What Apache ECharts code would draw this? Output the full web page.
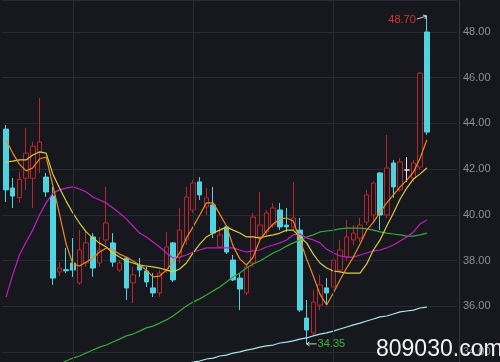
<!DOCTYPE html>
<html>
<head>
<meta charset="utf-8">
<script src="https://cdn.jsdelivr.net/npm/echarts@6/dist/echarts.min.js"></script>
<style>
html,body{margin:0;padding:0;background:#16181d;}
#c{width:500px;height:362px;}
</style>
</head>
<body>
<div id="c"></div>
<script>
// 64 trading days + 4 empty slots on the right
const categories = Array.from({length: 68}, (_, i) => String(i + 1));

const opens = [43.75, 41.17, 40.75, 41.60, 41.60, 42.75, 41.65, 40.82, 37.50, 37.60,
  37.89, 37.02, 37.89, 39.03, 37.89, 38.90, 38.77, 37.58, 38.11, 37.02,
  37.80, 37.54, 36.80, 36.58, 37.58, 38.77, 38.15, 38.90, 40.21, 41.44,
  40.34, 40.43, 38.59, 39.47, 38.02, 37.23, 36.58, 37.89, 39.03, 39.25,
  39.55, 40.21, 39.55, 39.47, 39.33, 35.48, 34.83, 36.05, 36.80, 36.84,
  37.58, 38.15, 38.90, 38.98, 39.68, 39.99, 41.83, 39.99, 42.27, 41.09,
  41.96, 41.60, 42.09, 48.00];
const closes = [41.09, 40.82, 41.55, 42.70, 43.00, 43.19, 41.00, 37.23, 37.67, 37.55,
  37.58, 38.46, 38.77, 37.67, 38.46, 39.64, 37.93, 37.89, 36.80, 37.37,
  37.58, 37.06, 36.58, 37.45, 38.59, 37.15, 39.33, 40.78, 41.39, 40.87,
  40.74, 39.20, 39.12, 38.37, 37.15, 36.75, 37.72, 39.90, 39.55, 40.08,
  40.30, 39.47, 39.47, 39.86, 35.83, 34.96, 36.18, 36.93, 36.58, 38.02,
  38.46, 39.03, 39.20, 39.55, 40.87, 41.39, 39.99, 42.05, 41.22, 42.31,
  41.96, 42.27, 46.20, 43.62];
const lows = [40.56, 40.30, 40.52, 41.09, 40.30, 41.83, 40.78, 36.93, 37.32, 37.45,
  37.28, 36.93, 37.72, 37.28, 37.72, 38.68, 37.72, 37.50, 36.27, 36.14,
  37.28, 36.84, 36.40, 36.40, 37.45, 37.06, 37.89, 38.68, 40.08, 40.65,
  39.99, 38.98, 38.55, 38.28, 37.10, 35.83, 36.49, 37.72, 38.90, 39.12,
  39.42, 39.33, 39.25, 39.33, 35.75, 34.35, 34.74, 35.83, 36.05, 36.71,
  37.45, 38.02, 38.68, 38.81, 39.55, 39.64, 39.33, 39.86, 40.74, 41.00,
  41.44, 41.44, 41.96, 43.50];
const highs = [43.93, 41.61, 41.90, 43.80, 43.20, 45.11, 41.83, 41.22, 37.93, 38.55,
  38.98, 39.33, 39.25, 39.20, 39.03, 41.22, 39.20, 38.02, 38.15, 37.72,
  38.11, 37.72, 37.45, 37.58, 39.25, 38.81, 40.30, 41.22, 41.52, 41.65,
  41.17, 41.22, 39.47, 39.55, 38.24, 37.45, 37.89, 40.08, 41.00, 40.21,
  40.52, 40.52, 40.30, 41.44, 39.86, 36.27, 36.71, 37.37, 37.23, 38.15,
  38.90, 39.77, 39.55, 39.86, 41.09, 41.45, 41.87, 43.49, 42.40, 42.49,
  42.53, 42.40, 46.25, 48.70];

const ma5 = [43.27, 42.70, 42.22, 41.92, 42.05, 42.44, 42.53, 41.30, 40.03, 38.72,
  37.85, 37.76, 37.93, 38.11, 38.37, 38.55, 38.46, 38.28, 38.15, 37.98,
  37.80, 37.58, 37.28, 37.32, 37.58, 37.93, 38.33, 38.98, 39.47, 39.99,
  40.52, 40.52, 40.03, 39.51, 38.63, 38.07, 37.80, 38.15, 38.90, 39.29,
  39.60, 39.82, 39.86, 39.73, 38.90, 38.07, 37.32, 36.53, 36.05, 36.58,
  37.15, 37.67, 38.15, 38.72, 39.33, 39.68, 40.12, 40.52, 40.87, 41.22,
  41.52, 41.87, 42.49, 43.27];
const ma10 = [42.31, 42.35, 42.40, 42.40, 42.62, 42.75, 42.70, 41.79, 41.17, 40.60,
  40.08, 39.64, 39.25, 38.98, 38.76, 38.59, 38.33, 38.15, 37.98, 37.89,
  37.80, 37.76, 37.72, 37.67, 37.58, 37.50, 37.63, 37.89, 38.33, 38.72,
  39.03, 39.20, 39.33, 39.47, 39.33, 39.20, 39.03, 39.03, 38.98, 39.07,
  39.12, 39.20, 39.33, 39.33, 39.03, 38.77, 38.28, 37.89, 37.67, 37.54,
  37.50, 37.45, 37.45, 37.45, 37.85, 38.46, 38.90, 39.51, 40.08, 40.69,
  41.17, 41.57, 41.79, 42.05];
const ma20 = [36.40, 37.37, 38.24, 38.81, 39.33, 39.99, 40.52, 40.95, 41.09, 41.17,
  41.22, 41.13, 41.00, 40.78, 40.65, 40.52, 40.30, 40.08, 39.82, 39.51,
  39.20, 39.03, 38.81, 38.59, 38.33, 38.11, 38.15, 38.24, 38.37, 38.46,
  38.55, 38.55, 38.55, 38.55, 38.55, 38.46, 38.37, 38.42, 38.46, 38.59,
  38.68, 38.77, 38.90, 39.12, 39.16, 38.98, 38.90, 38.77, 38.50, 38.33,
  38.20, 38.15, 38.15, 38.24, 38.33, 38.42, 38.46, 38.55, 38.68, 38.85,
  39.03, 39.25, 39.60, 39.77];
const ma60 = [null, null, null, null, null, null, null, null, 33.47, 33.60,
  33.73, 33.82, 33.95, 34.08, 34.21, 34.30, 34.43, 34.56, 34.70, 34.78,
  34.91, 35.05, 35.13, 35.26, 35.40, 35.57, 35.79, 36.01, 36.18, 36.32,
  36.49, 36.67, 36.84, 37.06, 37.28, 37.45, 37.67, 37.85, 37.98, 38.15,
  38.33, 38.46, 38.63, 38.77, 38.90, 39.03, 39.12, 39.25, 39.29, 39.33,
  39.38, 39.42, 39.42, 39.42, 39.38, 39.33, 39.25, 39.20, 39.16, 39.12,
  39.07, 39.07, 39.12, 39.20];
const ma120 = [null, null, null, null, null, null, null, null, null, null,
  null, null, null, null, null, null, null, null, null, null,
  null, null, null, null, null, null, null, 33.47, 33.56, 33.60,
  33.69, 33.73, 33.82, 33.86, 33.95, 34.00, 34.08, 34.13, 34.21, 34.26,
  34.30, 34.39, 34.43, 34.48, 34.56, 34.61, 34.70, 34.78, 34.83, 34.91,
  35.00, 35.09, 35.18, 35.26, 35.35, 35.44, 35.53, 35.57, 35.66, 35.75,
  35.79, 35.83, 35.92, 35.96];

const monthLines = [10, 28, 49];

const candleData = opens.map((o, i) => [o, closes[i], lows[i], highs[i]]);

const chart = echarts.init(document.getElementById('c'), null, {renderer: 'canvas'});

function maSeries(name, data, color) {
  return {
    name, type: 'line', data, showSymbol: false, symbol: 'none',
    lineStyle: {color, width: 1.2}, z: 4, silent: true, connectNulls: false
  };
}

chart.setOption({
  backgroundColor: '#16181d',
  animation: false,
  grid: {left: 2.7, top: 0, width: 454.2, height: 397.6, containLabel: false, outerBoundsMode: 'none'},
  xAxis: {
    type: 'category', data: categories, boundaryGap: true,
    axisLine: {show: false}, axisTick: {show: false}, axisLabel: {show: false},
    splitLine: {show: false}
  },
  yAxis: {
    type: 'value', position: 'right', min: 32, max: 49.4, interval: 2, offset: 2.1,
    axisLine: {show: true, lineStyle: {color: '#34373e', width: 1}},
    axisTick: {show: false},
    axisLabel: {
      color: '#8d9198', fontSize: 11, margin: 4, showMaxLabel: false,
      fontFamily: 'Liberation Sans, Arial, sans-serif',
      formatter: v => v.toFixed(2)
    },
    splitLine: {show: true, lineStyle: {color: '#282b31', width: 1}}
  },
  series: [
    {
      type: 'line', data: [], z: 1, silent: true,
      markLine: {
        silent: true, symbol: ['none', 'none'], label: {show: false},
        lineStyle: {color: '#282b31', type: 'solid', width: 1},
        data: monthLines.map(i => ({xAxis: categories[i]}))
      }
    },
    {
      type: 'candlestick', data: candleData, barWidth: 5, z: 3,
      itemStyle: {
        color: '#16181d', borderColor: '#b8262c',
        color0: '#4fd3de', borderColor0: '#4fd3de',
        borderColorDoji: '#e6e6e6', borderWidth: 1
      }
    },
    maSeries('MA120', ma120, '#a9e6ee'),
    maSeries('MA60', ma60, '#38a83c'),
    maSeries('MA20', ma20, '#c21fc0'),
    maSeries('MA10', ma10, '#ddcb3e'),
    maSeries('MA5', ma5, '#f08a1e')
  ]
});

function annotate() {
  let hiIdx = 0, loIdx = 0;
  highs.forEach((v, i) => { if (v > highs[hiIdx]) hiIdx = i; });
  lows.forEach((v, i) => { if (v < lows[loIdx]) loIdx = i; });
  const hi = chart.convertToPixel({xAxisIndex: 0, yAxisIndex: 0}, [categories[hiIdx], highs[hiIdx]]);
  const lo = chart.convertToPixel({xAxisIndex: 0, yAxisIndex: 0}, [categories[loIdx], lows[loIdx]]);
  chart.setOption({
    graphic: [
      {type: 'line', silent: true, z: 10,
        shape: {x1: hi[0] - 10, y1: hi[1] + 3, x2: hi[0], y2: hi[1]},
        style: {stroke: '#cfcfcf', lineWidth: 1}},
      {type: 'polyline', silent: true, z: 10,
        shape: {points: [[hi[0] - 4, hi[1] - 1], [hi[0], hi[1]], [hi[0] - 2, hi[1] + 3]]},
        style: {stroke: '#cfcfcf', lineWidth: 1, fill: null}},
      {type: 'text', silent: true, z: 10, x: hi[0] - 11, y: hi[1] + 4,
        style: {text: highs[hiIdx].toFixed(2), fill: '#d23434', fontSize: 11,
          fontFamily: 'Liberation Sans, Arial, sans-serif', align: 'right', verticalAlign: 'middle'}},
      {type: 'line', silent: true, z: 10,
        shape: {x1: lo[0], y1: lo[1], x2: lo[0] + 10, y2: lo[1]},
        style: {stroke: '#cfcfcf', lineWidth: 1}},
      {type: 'polyline', silent: true, z: 10,
        shape: {points: [[lo[0] + 3, lo[1] - 2], [lo[0], lo[1]], [lo[0] + 3, lo[1] + 2]]},
        style: {stroke: '#cfcfcf', lineWidth: 1, fill: null}},
      {type: 'text', silent: true, z: 10, x: lo[0] + 11, y: lo[1],
        style: {text: lows[loIdx].toFixed(2), fill: '#37b83c', fontSize: 11,
          fontFamily: 'Liberation Sans, Arial, sans-serif', align: 'left', verticalAlign: 'middle'}},
      {type: 'text', silent: true, z: 20, x: 376, y: 361,
        style: {text: '809030.com', fill: '#f2f2f2', fontSize: 23,
          fontFamily: 'Liberation Sans, Arial, sans-serif', align: 'left', verticalAlign: 'bottom'}}
    ]
  });
}
annotate();
</script>
</body>
</html>
